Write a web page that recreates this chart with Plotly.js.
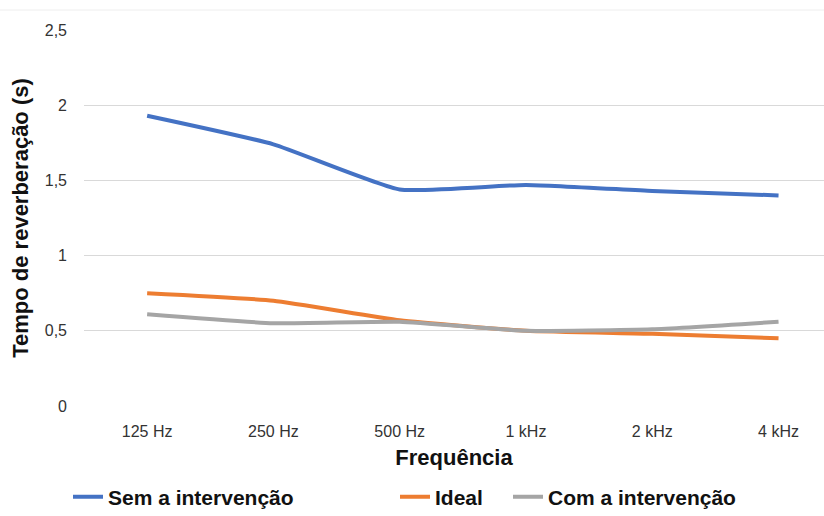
<!DOCTYPE html>
<html>
<head>
<meta charset="utf-8">
<script src="https://cdn.plot.ly/plotly-3.0.1.min.js"></script>
<style>html,body{margin:0;padding:0;background:#fff;}#chart{width:824px;height:516px;}</style>
</head>
<body>
<div id="chart"></div>
<script>
const categories = ["125 Hz", "250 Hz", "500 Hz", "1 kHz", "2 kHz", "4 kHz"];
const semIntervencao = [1.93, 1.74, 1.44, 1.47, 1.43, 1.40];
const ideal = [0.75, 0.70, 0.57, 0.50, 0.48, 0.45];
const comIntervencao = [0.61, 0.55, 0.56, 0.50, 0.51, 0.56];
const yTicks = [0, 0.5, 1, 1.5, 2, 2.5];

const legendFont = {family: "Liberation Sans, Arial, sans-serif", size: 21, color: "#111", weight: "bold"};
function mkLegend(px) {
  return {x: px / 824, xref: "container", xanchor: "left", y: 1 - 497 / 516, yref: "container",
          yanchor: "middle", orientation: "h", font: legendFont, bgcolor: "rgba(0,0,0,0)",
          itemwidth: 30, tracegroupgap: 0};
}

const traces = [
  {x: categories, y: semIntervencao, name: "Sem a intervenção", type: "scatter", mode: "lines",
   line: {color: "#4472C4", width: 4, shape: "spline", smoothing: 0.45}, legend: "legend"},
  {x: categories, y: ideal, name: "Ideal", type: "scatter", mode: "lines",
   line: {color: "#ED7D31", width: 4, shape: "spline", smoothing: 0.45}, legend: "legend2"},
  {x: categories, y: comIntervencao, name: "Com a intervenção", type: "scatter", mode: "lines",
   line: {color: "#A5A5A5", width: 4, shape: "spline", smoothing: 0.45}, legend: "legend3"}
];

const tickFont = {family: "Liberation Sans, Arial, sans-serif", size: 16, color: "#333333"};
const layout = {
  width: 824, height: 516,
  margin: {l: 84, r: 0, t: 30, b: 110, pad: 0},
  paper_bgcolor: "#fff", plot_bgcolor: "#fff",
  separators: ", ",
  showlegend: true,
  xaxis: {
    type: "category", range: [-0.5, 5.36], showgrid: false, zeroline: false, showline: false,
    ticks: "", tickfont: tickFont, ticklabelstandoff: 14, automargin: false,
    title: {text: "Frequência", font: {family: "Liberation Sans, Arial, sans-serif", size: 22, color: "#111", weight: "bold"}, standoff: 10}
  },
  yaxis: {
    range: [0, 2.5], tickvals: yTicks, showgrid: true, gridcolor: "#d9d9d9", gridwidth: 1.3,
    zeroline: false, showline: false, ticks: "", tickfont: tickFont, ticklabelstandoff: 16, automargin: false,
    title: {text: "Tempo de reverberação (s)", font: {family: "Liberation Sans, Arial, sans-serif", size: 22, color: "#111", weight: "bold"}, standoff: 10}
  },
  legend: mkLegend(68),
  legend2: mkLegend(395),
  legend3: mkLegend(508),
  shapes: [
    {type: "line", xref: "paper", yref: "paper", x0: -84 / 740, x1: 1, y0: 1 + 20 / 376, y1: 1 + 20 / 376,
     line: {color: "#eeeeee", width: 1}}
  ]
};

Plotly.newPlot("chart", traces, layout, {displayModeBar: false, staticPlot: true});
</script>
</body>
</html>
